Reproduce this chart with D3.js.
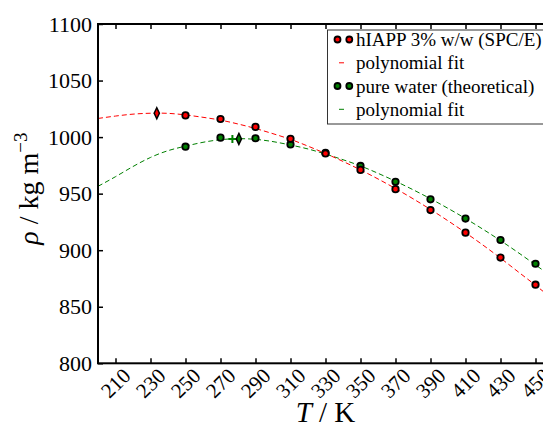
<!DOCTYPE html>
<html>
<head>
<meta charset="UTF-8">
<script src="https://d3js.org/d3.v7.min.js"></script>
<style>
  body { margin: 0; background: #fff; }
  text { font-family: "Liberation Serif", "DejaVu Serif", serif; }
</style>
</head>
<body>
<script>
// data
const temps = [250, 270, 290, 310, 330, 350, 370, 390, 410, 430, 450];
const hiappRho = [1019.2, 1016, 1009, 998.5, 985.5, 971, 954, 935.5, 915.5, 893.5, 869.5];
const waterRho = [991.5, 999.5, 999, 993.5, 986, 974.5, 960.5, 945, 928, 909, 888];

// fitted curves
const fitT = [200, 210, 220, 230, 240, 250, 260, 270, 280, 290, 300, 310, 320, 330,
              340, 350, 360, 370, 380, 390, 400, 410, 420, 430, 440, 450, 460];
const hiappFit = [1016.5, 1018.6, 1020.3, 1021.1, 1021, 1019.6, 1017.5, 1015, 1011.6, 1007.6,
                  1003, 998, 992, 985.5, 978.5, 971, 963, 954.5, 945.5, 936, 926,
                  915.5, 904.5, 893, 881, 869, 856.5];
const waterFit = [956.5, 965, 974, 982, 988, 992, 995.4, 997.7, 998.6, 998, 996, 993,
                  989.5, 985, 980, 974.5, 968, 961, 953.5, 945.5, 937, 928, 918.5,
                  908.5, 898, 887, 876];

// extrema markers
const hiappMax = [{ t: 233.6, rho: 1021.1 }];
const waterMax = [{ t: 280.5, rho: 998.4 }];
const waterRef = [{ t: 276.8, rho: 998.4 }];

const xTicks = d3.range(210, 451, 20);
const yTicks = [800, 850, 900, 950, 1000, 1050, 1100];

const legendItems = [
  { label: "hIAPP 3% w/w (SPC/E)", kind: "dot", color: "#ff0000" },
  { label: "polynomial fit", kind: "dash", color: "#ff0000" },
  { label: "pure water (theoretical)", kind: "dot", color: "#008000" },
  { label: "polynomial fit", kind: "dash", color: "#008000" }
];

const W = 543, H = 429;
const pL = 98, pT = 24, pR = 553, pB = 363.3;

const svg = d3.select("body").append("svg")
  .attr("width", W).attr("height", H);

const x = d3.scaleLinear().domain([200, 460]).range([pL, pR]);
const y = d3.scaleLinear().domain([800, 1100]).range([pB, pT]);

// fit lines
const line = d3.line().x(d => x(d[0])).y(d => y(d[1])).curve(d3.curveNatural);
svg.append("path")
  .attr("d", line(fitT.map((t, i) => [t, waterFit[i]])))
  .attr("fill", "none").attr("stroke", "#008000").attr("stroke-width", 1)
  .attr("stroke-dasharray", "5,3");
svg.append("path")
  .attr("d", line(fitT.map((t, i) => [t, hiappFit[i]])))
  .attr("fill", "none").attr("stroke", "#ff0000").attr("stroke-width", 1)
  .attr("stroke-dasharray", "5,3");

// data points
function dots(vals, color) {
  svg.append("g").selectAll("circle")
    .data(temps.map((t, i) => [t, vals[i]]))
    .join("circle")
    .attr("cx", d => x(d[0])).attr("cy", d => y(d[1]))
    .attr("r", 3.2)
    .attr("fill", color).attr("stroke", "#000").attr("stroke-width", 1.8);
}
dots(waterRho, "#008000");
dots(hiappRho, "#ff0000");

// plus marker
svg.append("g").selectAll("path")
  .data(waterRef).join("path")
  .attr("d", d => `M${x(d.t) - 4},${y(d.rho)}h8M${x(d.t)},${y(d.rho) - 4}v8`)
  .attr("stroke", "#008000").attr("stroke-width", 2);

// thin diamonds
function diamond(data, color) {
  svg.append("g").selectAll("path")
    .data(data).join("path")
    .attr("d", d => {
      const cx = x(d.t), cy = y(d.rho);
      return `M${cx},${cy - 5.5}L${cx + 2.6},${cy}L${cx},${cy + 5.5}L${cx - 2.6},${cy}Z`;
    })
    .attr("fill", color).attr("stroke", "#000").attr("stroke-width", 1.5);
}
diamond(hiappMax, "#ff0000");
diamond(waterMax, "#008000");

// frame
svg.append("rect")
  .attr("x", pL).attr("y", pT)
  .attr("width", pR - pL).attr("height", pB - pT)
  .attr("fill", "none").attr("stroke", "#000").attr("stroke-width", 2);

// ticks (inward, on all sides)
const tk = 5;
svg.append("g").call(d3.axisTop(x).tickValues(xTicks).tickSize(tk).tickFormat(""))
  .attr("transform", `translate(0,${pB})`)
  .call(g => g.select(".domain").remove())
  .selectAll("line").attr("stroke-width", 1.5);
svg.append("g").call(d3.axisBottom(x).tickValues(xTicks).tickSize(tk).tickFormat(""))
  .attr("transform", `translate(0,${pT})`)
  .call(g => g.select(".domain").remove())
  .selectAll("line").attr("stroke-width", 1.5);
svg.append("g").call(d3.axisRight(y).tickValues(yTicks).tickSize(tk).tickFormat(""))
  .attr("transform", `translate(${pL},0)`)
  .call(g => g.select(".domain").remove())
  .selectAll("line").attr("stroke-width", 1.5);

// y tick labels
svg.append("g").selectAll("text")
  .data(yTicks).join("text")
  .attr("x", pL - 6).attr("y", d => y(d))
  .attr("dy", "0.35em")
  .attr("text-anchor", "end")
  .attr("font-size", 22)
  .text(d => d);

// x tick labels, rotated 45deg
svg.append("g").selectAll("text")
  .data(xTicks).join("text")
  .attr("transform", d => `translate(${x(d)},${383}) rotate(-45)`)
  .attr("text-anchor", "middle")
  .attr("dy", "0.35em")
  .attr("font-size", 21)
  .text(d => d);

// axis labels
const xl = svg.append("text")
  .attr("x", (pL + pR) / 2).attr("y", 422)
  .attr("text-anchor", "middle").attr("font-size", 29);
xl.append("tspan").attr("font-style", "italic").text("T");
xl.append("tspan").text(" / K");

const yl = svg.append("text")
  .attr("transform", `translate(38,${(pT + pB) / 2 - 5}) rotate(-90)`)
  .attr("text-anchor", "middle").attr("font-size", 28);
yl.append("tspan").attr("font-style", "italic").text("ρ");
yl.append("tspan").text(" / kg m");
yl.append("tspan").attr("font-size", 19).attr("dy", -11).text("−3");

// legend
const lg = svg.append("g");
lg.append("rect")
  .attr("x", 327.5).attr("y", 30)
  .attr("width", 219).attr("height", 94)
  .attr("fill", "#fff").attr("stroke", "#333").attr("stroke-width", 1);
const rowY = [39.5, 62.8, 86, 109.3];
legendItems.forEach((it, i) => {
  const ry = rowY[i];
  if (it.kind === "dot") {
    [337.5, 349.3].forEach(cx => lg.append("circle")
      .attr("cx", cx).attr("cy", ry).attr("r", 3)
      .attr("fill", it.color).attr("stroke", "#000").attr("stroke-width", 1.8));
  } else {
    lg.append("line")
      .attr("x1", 339).attr("x2", 344).attr("y1", ry).attr("y2", ry)
      .attr("stroke", it.color).attr("stroke-width", 1);
  }
  lg.append("text")
    .attr("x", 356).attr("y", ry).attr("dy", "0.35em")
    .attr("font-size", 19)
    .text(it.label);
});
</script>
</body>
</html>
